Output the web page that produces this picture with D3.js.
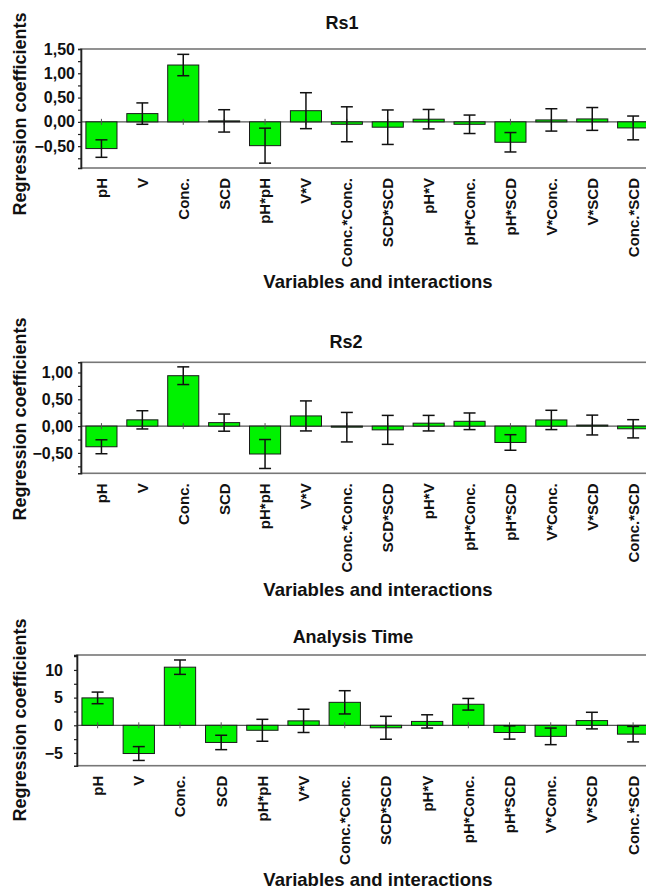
<!DOCTYPE html>
<html>
<head>
<meta charset="utf-8">
<script src="https://cdn.jsdelivr.net/npm/d3@7"></script>
<style>
  html, body { margin: 0; padding: 0; background: #fff; }
  svg { display: block; }
  text { font-family: "Liberation Sans", Arial, sans-serif; font-weight: bold; fill: #111; }
</style>
</head>
<body>
<svg id="chart" width="646" height="890"></svg>
<script>
// ---------- data ----------
const categories = ["pH", "V", "Conc.", "SCD", "pH*pH", "V*V", "Conc.*Conc.", "SCD*SCD",
  "pH*V", "pH*Conc.", "pH*SCD", "V*Conc.", "V*SCD", "Conc.*SCD"];

const rs1Values = [-0.55, 0.17, 1.17, 0.02, -0.49, 0.23, -0.05, -0.11, 0.055, -0.05, -0.42, 0.04, 0.06, -0.125];
const rs1Errors = [0.18, 0.22, 0.22, 0.23, 0.36, 0.37, 0.36, 0.355, 0.20, 0.19, 0.20, 0.23, 0.235, 0.245];

const rs2Values = [-0.385, 0.117, 0.94, 0.065, -0.52, 0.19, -0.02, -0.07, 0.055, 0.09, -0.305, 0.115, 0.02, -0.05];
const rs2Errors = [0.13, 0.17, 0.165, 0.16, 0.27, 0.28, 0.275, 0.27, 0.145, 0.155, 0.145, 0.18, 0.185, 0.17];

const timeValues = [4.95, -5.1, 10.5, -3.1, -0.9, 0.8, 4.15, -0.45, 0.7, 3.8, -1.3, -2.0, 0.85, -1.6];
const timeErrors = [1.05, 1.25, 1.3, 1.3, 1.98, 2.1, 2.1, 2.07, 1.2, 1.05, 1.2, 1.5, 1.5, 1.4];

const rs1Ticks = [-0.5, 0, 0.5, 1.0, 1.5];
const rs1Minor = [-0.75, -0.25, 0.25, 0.75, 1.25];
const rs2Ticks = [-0.5, 0, 0.5, 1.0];
const rs2Minor = [-0.75, -0.25, 0.25, 0.75];
const timeTicks = [-5, 0, 5, 10];
const timeMinor = [-2.5, 2.5, 7.5, 12.5];

const titles = ["Rs1", "Rs2", "Analysis Time"];
const xTitle = "Variables and interactions";
const yTitle = "Regression coefficients";

// ---------- layout (positions only) ----------
const panels = [
  { title: titles[0], values: rs1Values, errors: rs1Errors, ticks: rs1Ticks, minor: rs1Minor,
    domain: [-0.95, 1.5], fmt: v => d3.format(".2f")(v).replace(".", ","),
    left: 81, right: 653.6, top: 49, bottom: 168, labelEnd: 75,
    titleX: 342, titleY: 29, xTitleY: 288, yTitleY: 114 },
  { title: titles[1], values: rs2Values, errors: rs2Errors, ticks: rs2Ticks, minor: rs2Minor,
    domain: [-0.88, 1.19], fmt: v => d3.format(".2f")(v).replace(".", ","),
    left: 81, right: 653.6, top: 362.3, bottom: 473.3, labelEnd: 73,
    titleX: 346, titleY: 348, xTitleY: 596, yTitleY: 419 },
  { title: titles[2], values: timeValues, errors: timeErrors, ticks: timeTicks, minor: timeMinor,
    domain: [-7.3, 12.7], fmt: v => d3.format("d")(v),
    left: 77, right: 653.7, top: 655, bottom: 765.7, labelEnd: 63,
    titleX: 353, titleY: 643, xTitleY: 886, yTitleY: 720 }
];

const svg = d3.select("#chart");
svg.append("rect").attr("width", 646).attr("height", 890).attr("fill", "#fff");

panels.forEach(p => {
  const g = svg.append("g");
  const x = d3.scaleBand().domain(categories).range([p.left, p.right])
    .paddingInner(0.24).paddingOuter(0.12);
  const y = d3.scaleLinear().domain(p.domain).range([p.bottom, p.top]);
  const y0 = y(0);

  // frame
  g.append("rect")
    .attr("x", p.left).attr("y", p.top)
    .attr("width", p.right - p.left).attr("height", p.bottom - p.top)
    .attr("fill", "none").attr("stroke", "#777").attr("stroke-width", 1.6);

  // zero line
  g.append("line").attr("x1", p.left).attr("x2", p.right)
    .attr("y1", y0).attr("y2", y0).attr("stroke", "#555").attr("stroke-width", 1.2);

  // bars
  const data = categories.map((c, i) => ({ c, v: p.values[i], e: p.errors[i] }));
  g.selectAll("rect.bar").data(data).enter().append("rect")
    .attr("class", "bar")
    .attr("x", d => x(d.c))
    .attr("width", x.bandwidth())
    .attr("y", d => Math.min(y(d.v), y0))
    .attr("height", d => Math.abs(y(d.v) - y0))
    .attr("fill", "#00f200")
    .attr("stroke", "#1a1a1a").attr("stroke-width", 1);

  // small ticks on zero line at category centers
  g.selectAll("line.zt").data(data).enter().append("line")
    .attr("x1", d => x(d.c) + x.bandwidth() / 2).attr("x2", d => x(d.c) + x.bandwidth() / 2)
    .attr("y1", y0 - 3).attr("y2", y0 + 3)
    .attr("stroke", "#555").attr("stroke-width", 1);

  // error bars
  const capW = 6;
  const eb = g.selectAll("g.eb").data(data).enter().append("g").attr("class", "eb")
    .attr("stroke", "#111").attr("stroke-width", 1.5);
  eb.append("line")
    .attr("x1", d => x(d.c) + x.bandwidth() / 2).attr("x2", d => x(d.c) + x.bandwidth() / 2)
    .attr("y1", d => y(d.v + d.e)).attr("y2", d => y(d.v - d.e));
  eb.append("line")
    .attr("x1", d => x(d.c) + x.bandwidth() / 2 - capW).attr("x2", d => x(d.c) + x.bandwidth() / 2 + capW)
    .attr("y1", d => y(d.v + d.e)).attr("y2", d => y(d.v + d.e));
  eb.append("line")
    .attr("x1", d => x(d.c) + x.bandwidth() / 2 - capW).attr("x2", d => x(d.c) + x.bandwidth() / 2 + capW)
    .attr("y1", d => y(d.v - d.e)).attr("y2", d => y(d.v - d.e));

  // y axis (major)
  const yAxis = d3.axisLeft(y).tickValues(p.ticks).tickFormat(p.fmt)
    .tickSize(3).tickPadding(p.left - p.labelEnd - 3);
  const ya = g.append("g").attr("transform", `translate(${p.left},0)`).call(yAxis);
  ya.select(".domain").attr("stroke", "#222").attr("stroke-width", 1.6);
  ya.selectAll(".tick line").attr("stroke", "#222").attr("stroke-width", 1.2);
  ya.selectAll(".tick text").style("font-size", "16px").style("font-weight", "bold")
    .style("font-family", "'Liberation Sans', Arial, sans-serif").attr("fill", "#111");

  // y axis (minor)
  const yMinor = d3.axisLeft(y).tickValues(p.minor).tickFormat("").tickSize(3);
  const ym = g.append("g").attr("transform", `translate(${p.left},0)`).call(yMinor);
  ym.select(".domain").remove();
  ym.selectAll(".tick line").attr("stroke", "#222").attr("stroke-width", 1.2);

  // x axis labels
  const xAxis = d3.axisBottom(x).tickSize(0).tickPadding(0);
  const xa = g.append("g").attr("transform", `translate(0,${p.bottom})`).call(xAxis);
  xa.select(".domain").remove();
  xa.selectAll(".tick text")
    .attr("transform", "rotate(-90)")
    .attr("text-anchor", "end")
    .attr("x", -10).attr("y", 0).attr("dy", "0.36em")
    .style("font-size", "15px").style("font-weight", "bold")
    .style("font-family", "'Liberation Sans', Arial, sans-serif").attr("fill", "#111");

  // title
  g.append("text").attr("x", p.titleX).attr("y", p.titleY)
    .attr("text-anchor", "middle").style("font-size", "18px").text(p.title);

  // x title
  g.append("text").attr("x", 378).attr("y", p.xTitleY)
    .attr("text-anchor", "middle").style("font-size", "18.5px").text(xTitle);

  // y title
  g.append("text").attr("transform", `translate(26,${p.yTitleY}) rotate(-90)`)
    .attr("text-anchor", "middle").style("font-size", "18px").text(yTitle);
});
</script>
</body>
</html>
